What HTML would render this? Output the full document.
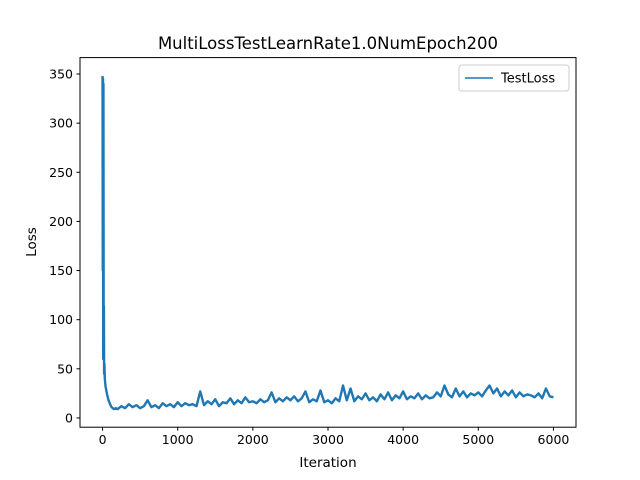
<!DOCTYPE html>
<html><head><meta charset="utf-8"><style>
body{margin:0;background:#fff;}
svg{display:block;font-family:"DejaVu Sans","Liberation Sans",sans-serif;}
</style></head><body>
<svg id="chart" width="640" height="480">
<rect width="640" height="480" fill="#fff"/>
<text x="328" y="49" font-size="16.5" text-anchor="middle">MultiLossTestLearnRate1.0NumEpoch200</text>
<g id="plot"></g>
<rect x="80" y="57.6" width="496" height="369.6" fill="none" stroke="#000" stroke-width="1"/>
<g id="xticks"></g><g id="yticks"></g>
<text x="328" y="467" font-size="13.5" text-anchor="middle">Iteration</text>
<text transform="translate(36,242) rotate(-90)" font-size="13.5" text-anchor="middle">Loss</text>
<g>
<rect x="459" y="65" width="110" height="26" rx="3" fill="#fff" stroke="#ccc"/>
<line x1="465" y1="78" x2="493" y2="78" stroke="#1f77b4" stroke-width="1.5"/>
<text x="501" y="82.5" font-size="13">TestLoss</text>
</g>
</svg>
<script>
const earlyIters=[0,3,6,9,12,15,18,21,25,30,40,50,60,80,100,120,150,175];
const earlyLoss=[348,150,345,60,340,80,114,45,55,40,32,28,24,18,14,11,9,10];
const steadyStart=200, steadyStep=50;
const steadyLoss=[9,12,10,14,11,13,10,12,18,11,
13,10,15,12,14,11,16,12,15,13,
14,12,27,13,17,14,19,12,16,15,
20,14,18,15,21,16,17,15,19,16,
18,26,16,20,17,21,18,22,17,20,
27,16,19,17,28,16,18,15,20,17,
33,18,30,17,22,19,25,18,21,17,
24,19,26,18,23,20,27,19,22,20,
25,19,23,20,21,26,22,33,24,21,
30,22,27,21,25,23,26,22,28,33,
25,30,22,27,23,28,21,26,22,24,
23,21,25,20,30,22,21];
const xTicks=[0,1000,2000,3000,4000,5000,6000];
const yTicks=[0,50,100,150,200,250,300,350];
const NS="http://www.w3.org/2000/svg";
const L=80,R=576,T=57.6,B=427.2,xmin=-300,xmax=6300,ymin=-9.4,ymax=366.7;
const sx=v=>L+(v-xmin)/(xmax-xmin)*(R-L);
const sy=v=>B-(v-ymin)/(ymax-ymin)*(B-T);
function mk(t,a,p){const e=document.createElementNS(NS,t);for(const k in a)e.setAttribute(k,a[k]);p.appendChild(e);return e;}
const xs=earlyIters.slice(), ys=earlyLoss.slice();
steadyLoss.forEach((v,i)=>{xs.push(steadyStart+i*steadyStep);ys.push(v);});
const d=xs.map((x,i)=>(i?'L':'M')+sx(x).toFixed(2)+','+sy(ys[i]).toFixed(2)).join('');
const path=mk('path',{d:d,fill:'none',stroke:'#1f77b4','stroke-width':2.4,'stroke-linejoin':'round'},document.getElementById('plot'));


const xg=document.getElementById('xticks');
xTicks.forEach(v=>{const x=sx(v);
const l=mk('line',{x1:x,x2:x,y1:B,y2:B+3.5,stroke:'#000'},xg);

const t=mk('text',{x:x,y:B+17,'font-size':12.5,'text-anchor':'middle'},xg);t.textContent=v;
});
const yg=document.getElementById('yticks');
yTicks.forEach(v=>{const y=sy(v);
const l=mk('line',{x1:L-3.5,x2:L,y1:y,y2:y,stroke:'#000'},yg);

const t=mk('text',{x:L-7,y:y+4.5,'font-size':12.5,'text-anchor':'end'},yg);t.textContent=v;
});
</script>
</body></html>
